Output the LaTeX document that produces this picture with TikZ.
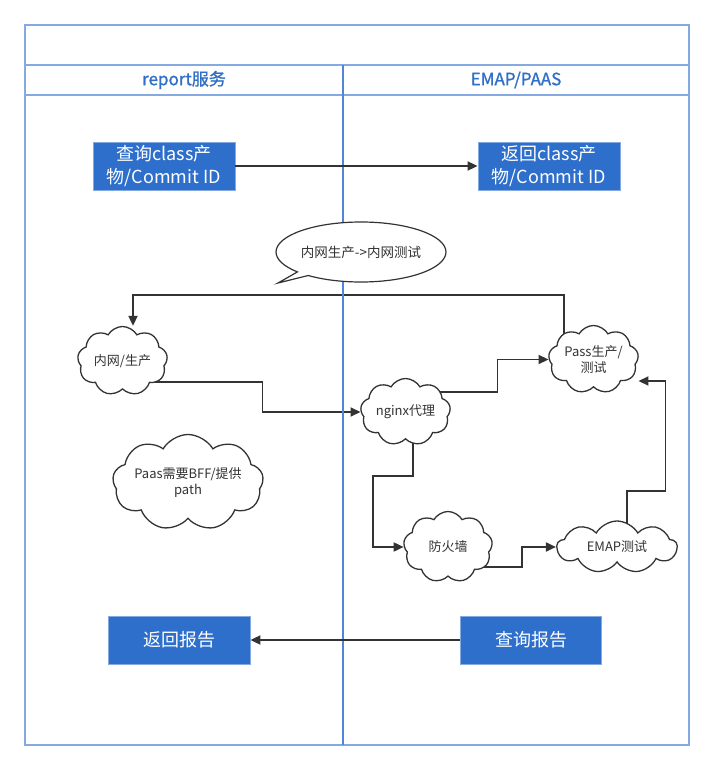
\documentclass[tikz,border=0pt]{standalone}
\usepackage{fontspec}
\setmainfont{Noto Sans CJK SC}
\newfontfamily\hdrfont[FakeBold=1.2]{Noto Sans CJK SC}
\usetikzlibrary{shapes.symbols,shapes.callouts,arrows.meta,calc}
\pgfdeclarelayer{background}
\pgfsetlayers{background,main}
\definecolor{lane}{HTML}{85AAE2}
\definecolor{divider}{HTML}{4F86D6}
\definecolor{boxblue}{HTML}{2D6FCB}
\definecolor{hdr}{HTML}{2F6FC8}
\definecolor{ink}{HTML}{333333}
\tikzset{
  bluebox/.style={rectangle, fill=boxblue, draw=lane, line width=0.8pt, text=white,
    minimum width=142pt, minimum height=48pt, inner sep=0pt, align=center,
    font=\fontsize{18}{23}\selectfont},
  cloudnode/.style={cloud, cloud puffs=9, cloud puff arc=120, cloud ignores aspect,
    draw=ink, fill=white, line width=1.3pt, inner sep=0pt, align=center, text=ink,
    font=\fontsize{13}{15.5}\selectfont},
  conn/.style={draw=ink, line width=1.8pt, -{Triangle[length=10pt,width=9pt]}},
  hdrtext/.style={text=hdr, font=\hdrfont\fontsize{17}{20}\selectfont},
}
\begin{document}
\begin{tikzpicture}[x=1pt,y=-1pt]
\useasboundingbox (0,0) rectangle (714,771);
% swimlane frame
\draw[lane, line width=1.8pt] (25,25) rectangle (689,745);
\draw[lane, line width=1.8pt] (25,65) -- (689,65);
\draw[lane, line width=1.8pt] (25,95) -- (689,95);
\draw[divider, line width=1.1pt] (343,65) -- (343,745);
\node[hdrtext] (h1) at (184,80) {report服务};
\node[hdrtext] (h2) at (516,80) {EMAP/PAAS};

% blue boxes
\node[bluebox] (q1) at (164,166) {查询class产\\物/Commit ID};
\node[bluebox] (r1) at (549,166) {返回class产\\物/Commit ID};
\node[bluebox, minimum height=48pt] (r2) at (179,640) {返回报告};
\node[bluebox, minimum height=48pt, minimum width=141pt] (q2) at (531,640) {查询报告};

% callout
\coordinate (tailtip) at (278,283);
\node[ellipse callout, draw=ink, fill=white, line width=1.2pt, minimum width=166pt, minimum height=60pt,
  inner sep=0pt, callout absolute pointer={(tailtip)}, callout pointer arc=10, text=ink,
  font=\fontsize{13.5}{16}\selectfont] (co) at (361,252) {内网生产->内网测试};

% clouds
\node[cloudnode, minimum width=90pt, minimum height=69pt] (nw) at (122.5,361) {内网/生产};
\node[cloudnode, minimum width=90pt, minimum height=68pt] (pass) at (593.5,359.5) {Pass生产/\\测试};
\node[cloudnode, minimum width=90pt, minimum height=67pt] (nginx) at (405.5,412) {nginx代理};
\node[cloudnode, minimum width=132pt, minimum height=96pt] (paas) at (188,482.5) {Paas需要BFF/提供\\path};
\node[cloudnode, minimum width=89pt, minimum height=71pt] (fw) at (448,547) {防火墙};
\node[cloudnode, minimum width=120pt, minimum height=52pt] (emap) at (617,547) {EMAP测试};

% connectors
\draw[conn] (q1.east) -- (r1.west);
\draw[conn] (q2.west) -- (r2.east);
\begin{pgfonlayer}{background}
\draw[conn] ([xshift=-29.5pt]pass.center) |- ([xshift=10.5pt,yshift=31pt]nw.north) -- ([xshift=10.5pt]nw.north);
\draw[conn] ([yshift=-21pt]nw.center) -| ([xshift=-98pt]nginx.west) -- (nginx.west);
\draw[conn] ([yshift=20pt]nginx.center) -| ([xshift=-51pt]pass.west) -- (pass.west);
\draw[conn] ([xshift=7.5pt]nginx.center) -- ++(0,64) -| ([xshift=-31pt]fw.west) -- (fw.west);
\draw[conn] ([yshift=-20pt]fw.center) -| ([xshift=-34pt]emap.west) -- (emap.west);
\draw[conn] ([xshift=10pt]emap.center) -- ++(0,-56) -| ([xshift=27pt,yshift=-21.5pt]pass.east) -- ([yshift=-21.5pt]pass.east);
\end{pgfonlayer}
\end{tikzpicture}
\end{document}
